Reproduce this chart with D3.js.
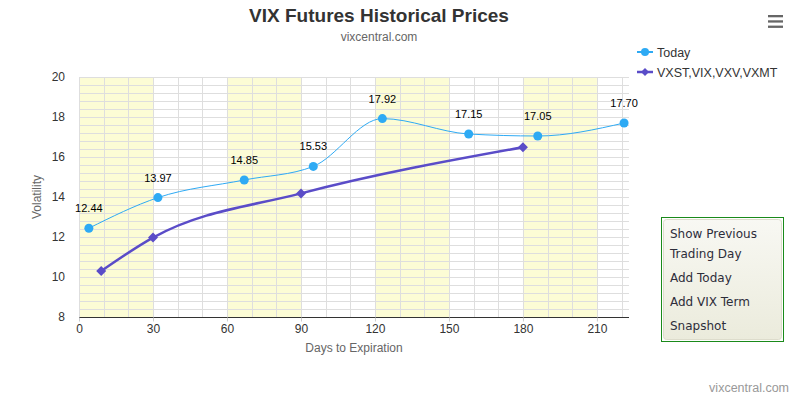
<!DOCTYPE html>
<html>
<head>
<meta charset="utf-8">
<script src="https://cdn.jsdelivr.net/npm/d3@7"></script>
<style>
  body { margin: 0; background: #fff; }
  svg text { font-family: "Liberation Sans", Arial, sans-serif; }
</style>
</head>
<body>
<div id="chart"></div>
<script>
// days to expiration and settlement values
const todayDays = [4, 32, 67, 95, 123, 158, 186, 221];
const todayValues = [12.44, 13.97, 14.85, 15.53, 17.92, 17.15, 17.05, 17.70];
const termDays = [9, 30, 90, 180];
const termValues = [10.30, 11.97, 14.18, 16.49];
const xTicks = [0, 30, 60, 90, 120, 150, 180, 210];
const yTicks = [8, 10, 12, 14, 16, 18, 20];
const bands = [[0, 30], [60, 90], [120, 150], [180, 210]];
const seriesNames = ["Today", "VXST,VIX,VXV,VXMT"];
const menuItems = ["Show Previous", "Trading Day", "Add Today", "Add VIX Term", "Snapshot"];

const w = 796;
const h = 397;
const plotL = 79, plotR = 629, plotT = 77, plotB = 317;
const todayColor = "#2eaaf4";
const termColor = "#5a4cc8";

const svg = d3.select("#chart")
  .append("svg")
  .attr("width", w)
  .attr("height", h);

//THE SCALES
const x = d3.scaleLinear().domain([0, 223]).range([plotL, plotR]);
const y = d3.scaleLinear().domain([8, 20]).range([plotB, plotT]);

//yellow bands
svg.selectAll("rect.band")
  .data(bands)
  .enter()
  .append("rect")
  .attr("class", "band")
  .attr("x", d => x(d[0]))
  .attr("y", plotT)
  .attr("width", d => x(d[1]) - x(d[0]))
  .attr("height", plotB - plotT)
  .attr("fill", "#fcfcd5");

//grid, minor lines every 10 days and 0.4 volatility points
const vGrid = d3.range(0, 230, 10);
const hGrid = d3.range(0, 31).map(i => 8 + i * 0.4);
svg.append("g")
  .selectAll("line")
  .data(hGrid)
  .enter()
  .append("line")
  .attr("x1", plotL)
  .attr("x2", plotR)
  .attr("y1", d => Math.round(y(d)) + 0.5)
  .attr("y2", d => Math.round(y(d)) + 0.5)
  .attr("stroke", "#dedede");
svg.append("g")
  .selectAll("line")
  .data(vGrid)
  .enter()
  .append("line")
  .attr("x1", d => Math.round(x(d)) + 0.5)
  .attr("x2", d => Math.round(x(d)) + 0.5)
  .attr("y1", plotT)
  .attr("y2", plotB)
  .attr("stroke", "#dedede");

//THE AXES
const xAxis = d3.axisBottom(x).tickValues(xTicks).tickSize(4).tickPadding(3);
const gx = svg.append("g")
  .attr("transform", `translate(0, ${plotB + 0.5})`)
  .call(xAxis);
gx.select(".domain").attr("stroke", "#333").attr("d", `M${plotL},0H${plotR}`);
gx.selectAll(".tick line").attr("stroke", "#ccc");
gx.selectAll("text").attr("fill", "#333").style("font-size", "12px");

const yAxis = d3.axisLeft(y).tickValues(yTicks).tickSize(0).tickPadding(14);
const gy = svg.append("g")
  .attr("transform", `translate(${plotL}, 0)`)
  .call(yAxis);
gy.select(".domain").remove();
gy.selectAll("text").attr("fill", "#333").style("font-size", "12px");

//titles
svg.append("text")
  .attr("x", 379).attr("y", 22)
  .attr("text-anchor", "middle")
  .style("font-size", "19px").style("font-weight", "bold")
  .attr("fill", "#333")
  .text("VIX Futures Historical Prices");
svg.append("text")
  .attr("x", 379).attr("y", 41)
  .attr("text-anchor", "middle")
  .style("font-size", "12px")
  .attr("fill", "#666")
  .text("vixcentral.com");
svg.append("text")
  .attr("transform", `translate(41, ${(plotT + plotB) / 2}) rotate(-90)`)
  .attr("text-anchor", "middle")
  .style("font-size", "12px")
  .attr("fill", "#666")
  .text("Volatility");
svg.append("text")
  .attr("x", (plotL + plotR) / 2).attr("y", 352)
  .attr("text-anchor", "middle")
  .style("font-size", "12px")
  .attr("fill", "#666")
  .text("Days to Expiration");
svg.append("text")
  .attr("x", 789).attr("y", 392)
  .attr("text-anchor", "end")
  .style("font-size", "12.5px")
  .attr("fill", "#999")
  .text("vixcentral.com");

//THE LINES
const line = d3.line()
  .x(d => x(d[0]))
  .y(d => y(d[1]))
  .curve(d3.curveMonotoneX);

const termData = termDays.map((d, i) => [d, termValues[i]]);
const todayData = todayDays.map((d, i) => [d, todayValues[i]]);

svg.append("path")
  .attr("d", line(termData))
  .attr("fill", "none")
  .attr("stroke", termColor)
  .attr("stroke-width", 2.5);
svg.selectAll("path.diamond")
  .data(termData)
  .enter()
  .append("path")
  .attr("class", "diamond")
  .attr("d", "M0,-5L5,0L0,5L-5,0Z")
  .attr("transform", d => `translate(${x(d[0])}, ${y(d[1])})`)
  .attr("fill", termColor);

svg.append("path")
  .attr("d", line(todayData))
  .attr("fill", "none")
  .attr("stroke", todayColor)
  .attr("stroke-width", 1);
svg.selectAll("circle.today")
  .data(todayData)
  .enter()
  .append("circle")
  .attr("class", "today")
  .attr("cx", d => x(d[0]))
  .attr("cy", d => y(d[1]))
  .attr("r", 4.5)
  .attr("fill", todayColor);
svg.selectAll("text.label")
  .data(todayData)
  .enter()
  .append("text")
  .attr("class", "label")
  .attr("x", d => x(d[0]))
  .attr("y", d => y(d[1]) - 16)
  .attr("text-anchor", "middle")
  .style("font-size", "11px")
  .attr("fill", "#000")
  .text(d => d[1].toFixed(2));

//THE LEGEND
const legend = svg.append("g").attr("transform", "translate(637, 52)");
[todayColor, termColor].forEach((c, i) => {
  const g = legend.append("g").attr("transform", `translate(0, ${i * 20})`);
  g.append("line").attr("x1", 0).attr("x2", 16).attr("stroke", c).attr("stroke-width", i ? 2.5 : 2);
  if (i) g.append("path").attr("d", "M8,-4L12,0L8,4L4,0Z").attr("fill", c);
  else g.append("circle").attr("cx", 8).attr("r", 4).attr("fill", c);
  g.append("text").attr("x", 20).attr("y", 4.5)
    .style("font-size", "12.5px").attr("fill", "#333")
    .text(seriesNames[i]);
});

//menu icon
svg.selectAll("rect.burger")
  .data([0, 1, 2])
  .enter()
  .append("rect")
  .attr("x", 768).attr("y", d => 15 + d * 5.3)
  .attr("width", 15).attr("height", 2.3)
  .attr("fill", "#666");

//button box
const defs = svg.append("defs");
const grad = defs.append("linearGradient").attr("id", "btn").attr("x1", 0).attr("x2", 0).attr("y1", 0).attr("y2", 1);
grad.append("stop").attr("offset", "0%").attr("stop-color", "#f8f8f3");
grad.append("stop").attr("offset", "100%").attr("stop-color", "#ebebdc");
svg.append("rect")
  .attr("x", 661.5).attr("y", 217.5).attr("width", 122).attr("height", 124)
  .attr("fill", "#fff").attr("stroke", "#1a8a1a");
svg.append("rect")
  .attr("x", 663.5).attr("y", 219.5).attr("width", 118).attr("height", 120)
  .attr("rx", 3)
  .attr("fill", "url(#btn)").attr("stroke", "#dddccc");
svg.selectAll("text.menu")
  .data(menuItems)
  .enter()
  .append("text")
  .attr("class", "menu")
  .attr("x", 670)
  .attr("y", (d, i) => [238, 258, 282, 306, 330][i])
  .style("font-family", "'DejaVu Sans', sans-serif")
  .style("font-size", "12px")
  .attr("fill", "#2d2d3a")
  .text(d => d);
</script>
</body>
</html>
